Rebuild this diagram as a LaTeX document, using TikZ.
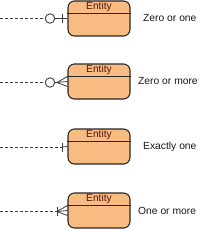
\documentclass[tikz,border=0pt]{standalone}
\usepackage{fontspec}
\setmainfont{Liberation Sans}
\definecolor{entfill}{RGB}{248,188,130}
\definecolor{entline}{RGB}{40,40,40}
\definecolor{enttext}{RGB}{80,20,10}
\definecolor{conn}{RGB}{60,60,60}
\begin{document}
\begin{tikzpicture}[x=1pt,y=-1pt,
  entity/.style={draw=entline,fill=entfill,line width=1.1pt,rounded corners=6.5pt,
    minimum width=62pt,minimum height=35pt,inner sep=0pt},
  enttitle/.style={font=\fontsize{10.2}{10}\selectfont,text=enttext,inner sep=0pt,anchor=center},
  lbl/.style={font=\fontsize{10.3}{11}\selectfont,text=black!90,inner sep=0pt,anchor=west},
  dashline/.style={draw=conn,line width=0.8pt,dash pattern=on 3pt off 2pt},
  solidline/.style={draw=conn,line width=0.8pt},
  ring/.style={circle,draw=conn,line width=0.9pt,fill=white,minimum size=9.5pt,inner sep=0pt}]
\useasboundingbox (0,0) rectangle (200,230);
% entities
\foreach \n/\t in {1/1,2/64,3/129,4/193}{
  \node[entity] (e\n) at (99,\t+17.5) {};
  \draw[draw=entline,line width=1.1pt] ([yshift=-13pt]e\n.north west) -- ([yshift=-13pt]e\n.north east);
  \node[enttitle] (t\n) at ([yshift=-6.8pt]e\n.north) {Entity};
}
% 1: zero or one
\coordinate (s1) at (0,18.5);
\node[ring] (c1) at (50,18.5) {};
\draw[dashline] (s1) -- (c1.west);
\draw[solidline] (c1.east) -- (e1.west);
\coordinate (b1) at (62,18.5);
\draw[solidline] ([yshift=-4.5pt]b1) -- ([yshift=4.5pt]b1);
\node[lbl] (l1) at (143,18) {Zero or one};
% 2: zero or more
\coordinate (s2) at (0,82.5);
\node[ring] (c2) at (50,82.5) {};
\draw[dashline] (s2) -- (c2.west);
\coordinate (a2) at (57,82.5);
\draw[solidline] (c2.east) -- (e2.west);
\draw[solidline] ([yshift=-5pt]e2.west) -- (a2) -- ([yshift=5pt]e2.west);
\node[lbl] (l2) at (138,81.5) {Zero or more};
% 3: exactly one
\coordinate (s3) at (0,147);
\coordinate (b3) at (62,147);
\draw[dashline] (s3) -- (b3);
\draw[solidline] (b3) -- (e3.west);
\draw[solidline] ([yshift=-4.5pt]b3) -- ([yshift=4.5pt]b3);
\node[lbl] (l3) at (143,146.5) {Exactly one};
% 4: one or more
\coordinate (s4) at (0,211.5);
\coordinate (b4) at (57,211.5);
\draw[dashline] (s4) -- (b4);
\draw[solidline] (b4) -- (e4.west);
\draw[solidline] ([yshift=-4.5pt]b4) -- ([yshift=4.5pt]b4);
\draw[solidline] ([yshift=-5pt]e4.west) -- (b4) -- ([yshift=5pt]e4.west);
\node[lbl] (l4) at (138,210.5) {One or more};
\end{tikzpicture}
\end{document}
